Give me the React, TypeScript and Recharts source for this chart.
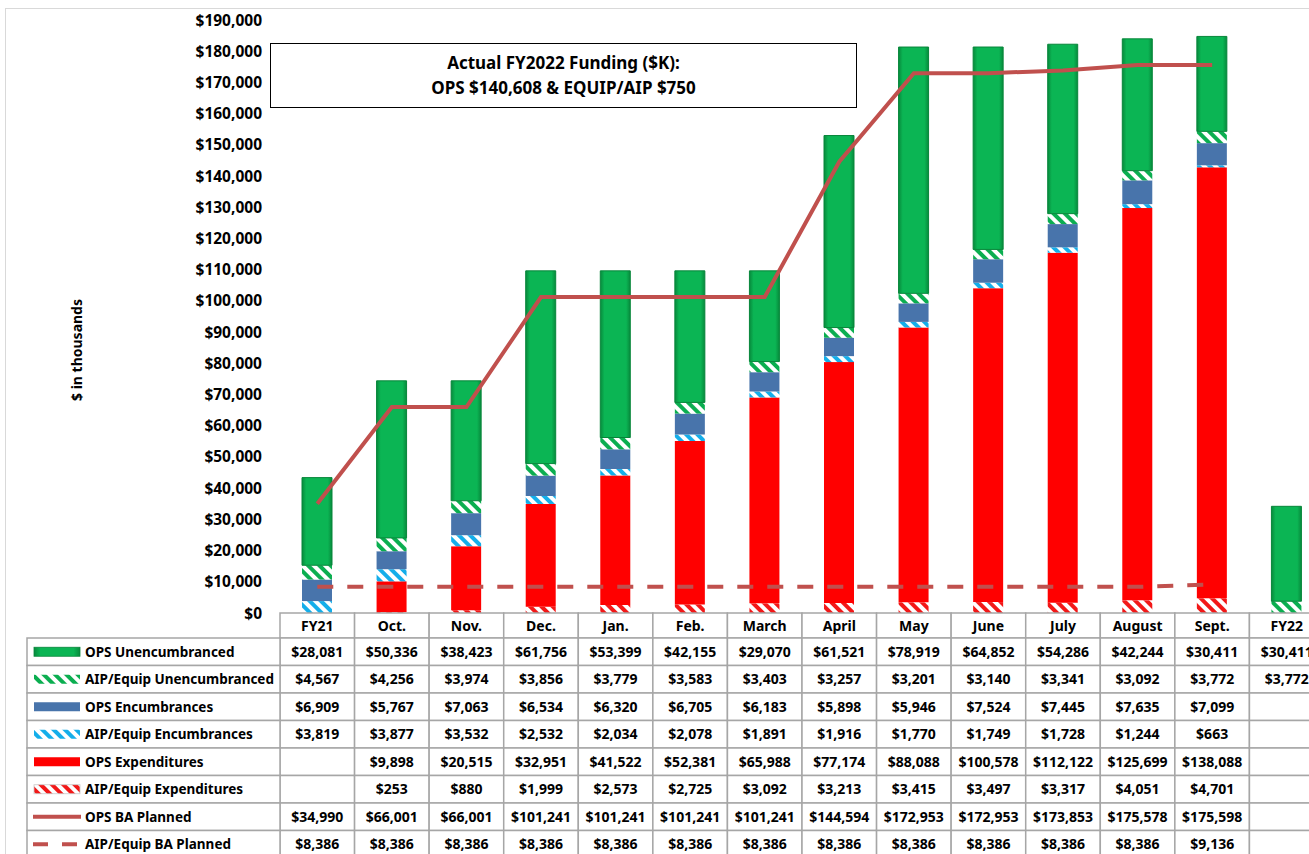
import React from "react";
import { ComposedChart, Bar, Line, XAxis, YAxis } from "recharts";

const categories = ["FY21", "Oct.", "Nov.", "Dec.", "Jan.", "Feb.", "March", "April", "May", "June", "July", "August", "Sept.", "FY22"];
const opsUnencumbranced = [28081, 50336, 38423, 61756, 53399, 42155, 29070, 61521, 78919, 64852, 54286, 42244, 30411, 30411];
const aipUnencumbranced = [4567, 4256, 3974, 3856, 3779, 3583, 3403, 3257, 3201, 3140, 3341, 3092, 3772, 3772];
const opsEncumbrances = [6909, 5767, 7063, 6534, 6320, 6705, 6183, 5898, 5946, 7524, 7445, 7635, 7099, null];
const aipEncumbrances = [3819, 3877, 3532, 2532, 2034, 2078, 1891, 1916, 1770, 1749, 1728, 1244, 663, null];
const opsExpenditures = [null, 9898, 20515, 32951, 41522, 52381, 65988, 77174, 88088, 100578, 112122, 125699, 138088, null];
const aipExpenditures = [null, 253, 880, 1999, 2573, 2725, 3092, 3213, 3415, 3497, 3317, 4051, 4701, null];
const opsBaPlanned = [34990, 66001, 66001, 101241, 101241, 101241, 101241, 144594, 172953, 172953, 173853, 175578, 175598, null];
const aipBaPlanned = [8386, 8386, 8386, 8386, 8386, 8386, 8386, 8386, 8386, 8386, 8386, 8386, 9136, null];
const yTicks = [0, 10000, 20000, 30000, 40000, 50000, 60000, 70000, 80000, 90000, 100000, 110000, 120000, 130000, 140000, 150000, 160000, 170000, 180000, 190000];

const FONT = "'Noto Sans', 'Open Sans', sans-serif";
const CHART_W = 1324;
const CHART_H = 854;
const PLOT_LEFT = 280;
const PLOT_BOTTOM = 613;
const COL_W = (CHART_W - PLOT_LEFT) / categories.length;
const HEADER_H = 25;
const ROW_H = 27.5;
const LEGEND_LEFT = 27;
const GRID = "#a6a6a6";
const LINE_RED = "#C0504D";

// table rows, top to bottom (same order as the excel data table)
const rows = [
  { key: "opsUnenc", name: "OPS Unencumbranced", values: opsUnencumbranced, icon: "green" },
  { key: "aipUnenc", name: "AIP/Equip Unencumbranced", values: aipUnencumbranced, icon: "greenHatch" },
  { key: "opsEnc", name: "OPS Encumbrances", values: opsEncumbrances, icon: "blue" },
  { key: "aipEnc", name: "AIP/Equip Encumbrances", values: aipEncumbrances, icon: "cyanHatch" },
  { key: "opsExp", name: "OPS Expenditures", values: opsExpenditures, icon: "red" },
  { key: "aipExp", name: "AIP/Equip Expenditures", values: aipExpenditures, icon: "redHatch" },
  { key: "opsBa", name: "OPS BA Planned", values: opsBaPlanned, icon: "line" },
  { key: "aipBa", name: "AIP/Equip BA Planned", values: aipBaPlanned, icon: "dash" },
];

const data = categories.map((c, i) => {
  const d: Record<string, any> = { name: c };
  rows.forEach((r) => (d[r.key] = r.values[i]));
  return d;
});

const fmt = (v: number | null) => (v == null ? "" : "$" + v.toLocaleString("en-US"));

const fills: Record<string, string> = {
  green: "url(#gradGreen)",
  greenHatch: "url(#hatchGreen)",
  blue: "#4874AB",
  cyanHatch: "url(#hatchCyan)",
  red: "#FF0000",
  redHatch: "url(#hatchRed)",
};

const LegendIcon = ({ icon, cy }: { icon: string; cy: number }) => {
  if (icon === "line") {
    return <line x1={33} x2={81} y1={cy} y2={cy} stroke={LINE_RED} strokeWidth={4} />;
  }
  if (icon === "dash") {
    return <line x1={33} x2={81} y1={cy} y2={cy} stroke={LINE_RED} strokeWidth={4} strokeDasharray="15 14" />;
  }
  return (
    <rect
      x={34}
      y={cy - 4.5}
      width={46}
      height={9}
      fill={fills[icon]}
      stroke={icon === "green" ? "#07863a" : icon === "redHatch" ? "#c8c8c8" : "none"}
      strokeWidth={0.8}
    />
  );
};

// one column of the data table, drawn at each x axis tick
const TableColumn = (props: any) => {
  const { x, payload } = props;
  const i = payload.index;
  const left = x - COL_W / 2;
  const top = PLOT_BOTTOM;
  return (
    <g fontFamily={FONT} fontWeight={700} fontSize={14} fill="#000">
      <rect x={left} y={top} width={COL_W} height={HEADER_H} fill="#fff" stroke={GRID} strokeWidth={1.5} />
      <text x={x} y={top + HEADER_H / 2 + 5} textAnchor="middle">{categories[i]}</text>
      {rows.map((r, k) => {
        const ry = top + HEADER_H + k * ROW_H;
        return (
          <g key={r.key}>
            <rect x={left} y={ry} width={COL_W} height={ROW_H} fill="#fff" stroke={GRID} strokeWidth={1.5} />
            <text x={x} y={ry + ROW_H / 2 + 5} textAnchor="middle">{fmt(r.values[i])}</text>
          </g>
        );
      })}
      {i === 0 &&
        rows.map((r, k) => {
          const ry = top + HEADER_H + k * ROW_H;
          return (
            <g key={"lg" + r.key}>
              <rect x={LEGEND_LEFT} y={ry} width={left - LEGEND_LEFT} height={ROW_H} fill="#fff" stroke={GRID} strokeWidth={1.5} />
              <LegendIcon icon={r.icon} cy={ry + ROW_H / 2} />
              <text x={85} y={ry + ROW_H / 2 + 5} textAnchor="start" fontSize={13.5}>{r.name}</text>
            </g>
          );
        })}
    </g>
  );
};

const yFmt = (v: number) => "$" + v.toLocaleString("en-US");

export default function App() {
  return (
    <div style={{ position: "absolute", left: 0, top: 0, width: 1309, height: 854, overflow: "hidden", background: "#fff", fontFamily: FONT }}>
      <div style={{ position: "absolute", left: 5, top: 8, width: 1400, height: 900, border: "1.5px solid #d9d9d9", boxSizing: "border-box" }} />
      <div style={{ position: "absolute", left: 0, top: 0 }}>
        <ComposedChart width={CHART_W} height={CHART_H} data={data} margin={{ top: 20, right: 0, bottom: 0, left: 0 }} barSize={30}>
          <defs>
            <linearGradient id="gradGreen" x1="0" y1="0" x2="1" y2="0">
              <stop offset="0%" stopColor="#078a3c" />
              <stop offset="14%" stopColor="#0bb554" />
              <stop offset="86%" stopColor="#0bb554" />
              <stop offset="100%" stopColor="#078a3c" />
            </linearGradient>
            <pattern id="hatchGreen" width="8" height="8" patternUnits="userSpaceOnUse" patternTransform="rotate(-45)">
              <rect width="8" height="8" fill="#fff" />
              <rect width="4" height="8" fill="#0BAE50" />
            </pattern>
            <pattern id="hatchCyan" width="8" height="8" patternUnits="userSpaceOnUse" patternTransform="rotate(-45)">
              <rect width="8" height="8" fill="#fff" />
              <rect width="4" height="8" fill="#14AEEA" />
            </pattern>
            <pattern id="hatchRed" width="8" height="8" patternUnits="userSpaceOnUse" patternTransform="rotate(-45)">
              <rect width="8" height="8" fill="#fff" />
              <rect width="4" height="8" fill="#F21818" />
            </pattern>
          </defs>
          <XAxis
            dataKey="name"
            interval={0}
            height={CHART_H - PLOT_BOTTOM}
            axisLine={false}
            tickLine={false}
            tickSize={0}
            tickMargin={0}
            tick={<TableColumn />}
          />
          <YAxis
            width={PLOT_LEFT}
            domain={[0, 190000]}
            ticks={yTicks}
            interval={0}
            axisLine={false}
            tickLine={false}
            tickSize={0}
            tickMargin={18}
            tickFormatter={yFmt}
            tick={{ fill: "#000", fontSize: 15.5, fontWeight: 700, fontFamily: FONT }}
          />
          <Bar dataKey="aipExp" stackId="a" fill={fills.redHatch} isAnimationActive={false} />
          <Bar dataKey="opsExp" stackId="a" fill={fills.red} isAnimationActive={false} />
          <Bar dataKey="aipEnc" stackId="a" fill={fills.cyanHatch} isAnimationActive={false} />
          <Bar dataKey="opsEnc" stackId="a" fill={fills.blue} isAnimationActive={false} />
          <Bar dataKey="aipUnenc" stackId="a" fill={fills.greenHatch} isAnimationActive={false} />
          <Bar dataKey="opsUnenc" stackId="a" fill={fills.green} stroke="#07863a" strokeWidth={1} isAnimationActive={false} />
          <Line dataKey="opsBa" type="linear" stroke={LINE_RED} strokeWidth={4} dot={false} isAnimationActive={false} />
          <Line dataKey="aipBa" type="linear" stroke={LINE_RED} strokeWidth={4} strokeDasharray="16 14" dot={false} isAnimationActive={false} />
        </ComposedChart>
      </div>
      <div
        style={{
          position: "absolute",
          left: 2,
          top: 340,
          width: 150,
          height: 20,
          transform: "rotate(-90deg)",
          transformOrigin: "75px 10px",
          textAlign: "center",
          fontSize: 14,
          fontWeight: 700,
          lineHeight: "20px",
        }}
      >
        $ in thousands
      </div>
      <div
        style={{
          position: "absolute",
          left: 270,
          top: 43,
          width: 587,
          height: 65,
          boxSizing: "border-box",
          border: "1.5px solid #000",
          background: "#fff",
          textAlign: "center",
          fontSize: 17,
          fontWeight: 700,
          lineHeight: "25px",
          paddingTop: 6,
        }}
      >
        Actual FY2022 Funding ($K):
        <br />
        OPS $140,608 &amp; EQUIP/AIP $750
      </div>
    </div>
  );
}
